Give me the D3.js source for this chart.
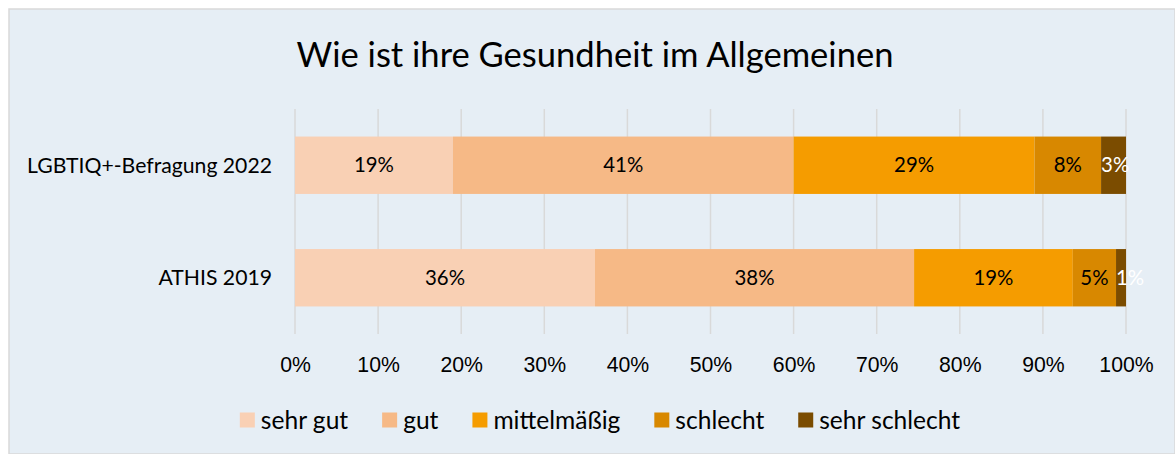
<!DOCTYPE html>
<html>
<head>
<meta charset="utf-8">
<script src="https://cdn.jsdelivr.net/npm/d3@7"></script>
<style>
  html, body { margin:0; padding:0; background:#fff; }
  svg { display:block; font-family: Lato, "Open Sans", sans-serif; }
</style>
</head>
<body>
<div id="chart"></div>
<script>
const categories = ["LGBTIQ+-Befragung 2022", "ATHIS 2019"];
const levels = ["sehr gut", "gut", "mittelmäßig", "schlecht", "sehr schlecht"];
const lgbtiqValues = [19, 41, 29, 8, 3];
const athisValues = [36.1, 38.4, 19.1, 5.2, 1.2];
const lgbtiqLabels = ["19%", "41%", "29%", "8%", "3%"];
const athisLabels = ["36%", "38%", "19%", "5%", "1%"];
const xTicks = [0, 0.1, 0.2, 0.3, 0.4, 0.5, 0.6, 0.7, 0.8, 0.9, 1];
const colors = ["#F9D0B4", "#F6B986", "#F59C00", "#D88800", "#7B4C00"];
const labelColors = ["#000", "#000", "#000", "#000", "#fff"];
const title = "Wie ist ihre Gesundheit im Allgemeinen";

const W = 1175, H = 454;
const margin = { top:109, right:49, bottom:120, left:295 };

const svg = d3.select('#chart').append('svg').attr('width', W).attr('height', H);
svg.append('rect').attr('x',9).attr('y',9).attr('width',W-9).attr('height',H-9)
   .attr('fill','#E6EEF5').attr('stroke','#D9D9D9').attr('stroke-width',1.5);

// size a text so that it is as wide as in the original
function fitSize(str, targetW){
  const p = svg.append('text').style('font-size','20px').text(str);
  const s = 20 * targetW / p.node().getComputedTextLength();
  p.remove();
  return s;
}
const titleSize = fitSize(title, 597);
const catSize = fitSize(categories[0], 245);
const labelSize = fitSize("41%", 40);
const legendSize = fitSize("sehr schlecht", 141);
const tickSize = fitSize("100%", 54);

svg.append('text').attr('x', 595).attr('y', 67).attr('text-anchor','middle')
   .style('font-size', titleSize + 'px').style('fill','#000').text(title);

const x = d3.scaleLinear().domain([0,1]).range([margin.left, W - margin.right]);
const y = d3.scaleBand().domain(categories).range([margin.top, H - margin.bottom]).paddingInner(0.49).paddingOuter(0.245);

// gridlines
svg.append('g').selectAll('line').data(xTicks).enter().append('line')
   .attr('x1', d=>x(d)).attr('x2', d=>x(d)).attr('y1', margin.top).attr('y2', H - margin.bottom)
   .attr('stroke','#D9D9D9').attr('stroke-width',1.5);

const rows = [
  { cat: categories[0], values: lgbtiqValues, labels: lgbtiqLabels },
  { cat: categories[1], values: athisValues, labels: athisLabels }
];
rows.forEach(r => {
  const total = d3.sum(r.values);
  let acc = 0;
  const segs = r.values.map((v,i) => { const s = { x0: acc/total, x1: (acc+v)/total, i, label: r.labels[i] }; acc += v; return s; });
  const g = svg.append('g');
  g.selectAll('rect').data(segs).enter().append('rect')
   .attr('x', d=>x(d.x0)).attr('width', d=>x(d.x1)-x(d.x0))
   .attr('y', y(r.cat)).attr('height', y.bandwidth()).attr('fill', d=>colors[d.i]);
  g.selectAll('text').data(segs).enter().append('text')
   .attr('y', y(r.cat)+y.bandwidth()/2)
   .attr('dy','0.35em').attr('text-anchor','middle').style('font-size', labelSize + 'px')
   .style('fill', d=>labelColors[d.i]).text(d=>d.label)
   .attr('x', function(d){
     const c = (x(d.x0)+x(d.x1))/2, w = this.getComputedTextLength();
     return Math.max(c, x(d.x0) + w/2);   // narrow segments: label starts at segment start
   });
});

// category axis labels
svg.append('g').selectAll('text').data(categories).enter().append('text')
   .attr('x', 272).attr('y', d=>y(d)+y.bandwidth()/2).attr('dy','0.35em')
   .attr('text-anchor','end').style('font-size', catSize + 'px').style('fill','#000').text(d=>d);

// x axis
const xa = svg.append('g').attr('transform', `translate(0,${H - margin.bottom})`)
  .call(d3.axisBottom(x).tickValues(xTicks).tickFormat(d3.format('.0%')).tickSize(0).tickPadding(23));
xa.select('.domain').remove();
xa.selectAll('text').style('font-size', tickSize + 'px').style('fill','#000').style('font-family','inherit');

// legend
const leg = svg.append('g');
const items = levels.map((l,i) => {
  const gi = leg.append('g');
  gi.append('rect').attr('x',0).attr('y',-7.5).attr('width',15).attr('height',15).attr('fill',colors[i]);
  const t = gi.append('text').attr('x',21).attr('dy','0.35em').style('font-size', legendSize + 'px').style('fill','#000').text(l);
  return { gi, w: 21 + t.node().getComputedTextLength() };
});
const gap = 34;
const totalW = d3.sum(items, d=>d.w) + gap*(items.length-1);
let lx = 600 - totalW/2;
items.forEach(it => { it.gi.attr('transform', `translate(${lx},420)`); lx += it.w + gap; });
</script>
</body>
</html>
